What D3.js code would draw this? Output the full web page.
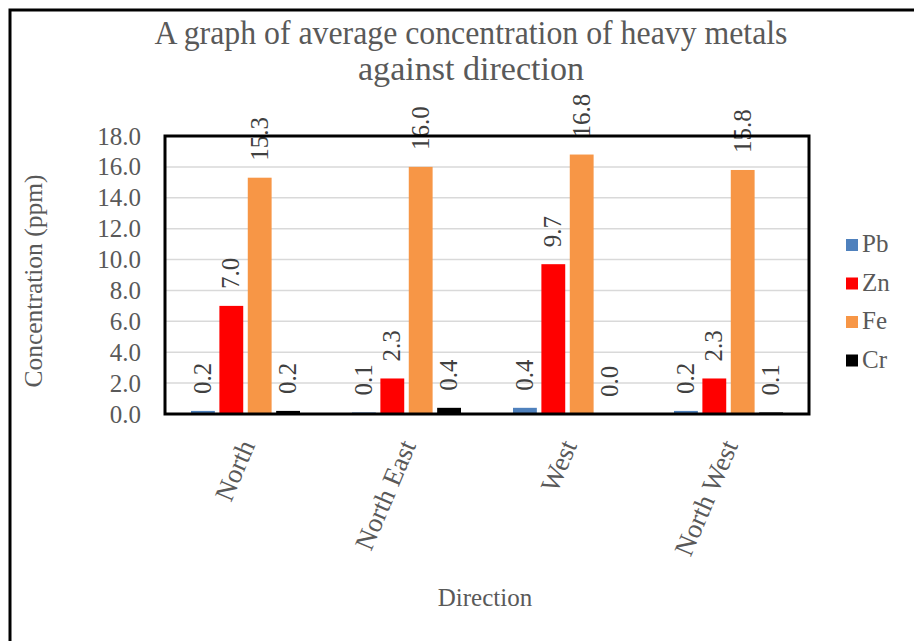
<!DOCTYPE html>
<html>
<head>
<meta charset="utf-8">
<script src="https://cdn.jsdelivr.net/npm/d3@7"></script>
<style>
  html, body { margin: 0; padding: 0; background: #fff; }
  svg { display: block; }
  text { font-family: "Liberation Serif", "Times New Roman", serif; fill: #595959; }
</style>
</head>
<body>
<svg id="chart" width="914" height="641"></svg>
<script>
// Average concentration (ppm) of heavy metals by sampling direction
const directions = ["North", "North East", "West", "North West"];
const metals = ["Pb", "Zn", "Fe", "Cr"];
const pbValues = [0.2, 0.1, 0.4, 0.2];
const znValues = [7.0, 2.3, 9.7, 2.3];
const feValues = [15.3, 16.0, 16.8, 15.8];
const crValues = [0.2, 0.4, 0.0, 0.1];
const yTicks = [0, 2, 4, 6, 8, 10, 12, 14, 16, 18];
const metalColors = ["#4f81bd", "#ff0000", "#f79646", "#000000"];

const serif = '"Liberation Serif", "Times New Roman", serif';
const seriesValues = [pbValues, znValues, feValues, crValues];
const rows = directions.map((d, i) => ({
  direction: d,
  values: metals.map((m, j) => ({ metal: m, value: seriesValues[j][i] }))
}));

const svg = d3.select("#chart");
const plot = { left: 165, right: 809, top: 136, bottom: 414 };

// Outer frame (top and left edges visible)
svg.append("path")
  .attr("d", "M10,641 L10,10 L914,10")
  .attr("fill", "none").attr("stroke", "#000").attr("stroke-width", 3);

const x0 = d3.scaleBand().domain(directions).range([plot.left, plot.right]).paddingInner(0.323).paddingOuter(0.1615);
const x1 = d3.scaleBand().domain(metals).range([0, x0.bandwidth()]).paddingInner(0.16);
const y = d3.scaleLinear().domain([0, 18]).range([plot.bottom, plot.top]);
const color = d3.scaleOrdinal().domain(metals).range(metalColors);

// Horizontal gridlines
svg.append("g")
  .selectAll("line").data(yTicks.filter(t => t > 0 && t < 18)).join("line")
  .attr("x1", plot.left).attr("x2", plot.right)
  .attr("y1", d => y(d)).attr("y2", d => y(d))
  .attr("stroke", "#d9d9d9").attr("stroke-width", 1.5);

// Y axis tick labels
const yAxis = d3.axisLeft(y).tickValues(yTicks).tickFormat(d3.format(".1f")).tickSize(0).tickPadding(24);
const gy = svg.append("g").attr("transform", `translate(${plot.left},0)`).call(yAxis);
gy.select(".domain").remove();
gy.selectAll("text")
  .style("fill", "#595959")
  .style("font-family", serif)
  .style("font-size", "25px");

// Bars
const groups = svg.append("g").selectAll("g").data(rows).join("g")
  .attr("transform", d => `translate(${x0(d.direction)},0)`);

groups.selectAll("rect").data(d => d.values).join("rect")
  .attr("x", d => x1(d.metal))
  .attr("width", x1.bandwidth())
  .attr("y", d => y(d.value))
  .attr("height", d => y(0) - y(d.value))
  .attr("fill", d => color(d.metal));

// Value labels, rotated, above each bar
groups.selectAll("text.val").data(d => d.values).join("text")
  .attr("class", "val")
  .attr("transform", d => `translate(${x1(d.metal) + x1.bandwidth() / 2 + 8},${y(d.value) - 17}) rotate(-90)`)
  .attr("text-anchor", "start")
  .style("font-family", serif)
  .style("font-size", "25px")
  .style("fill", "#404040")
  .text(d => d.value.toFixed(1));

// Plot border
svg.append("rect")
  .attr("x", plot.left).attr("y", plot.top)
  .attr("width", plot.right - plot.left).attr("height", plot.bottom - plot.top)
  .attr("fill", "none").attr("stroke", "#000").attr("stroke-width", 3);

// Category labels, slanted
const xAxis = d3.axisBottom(x0).tickSize(0).tickPadding(0);
const gx = svg.append("g").attr("transform", `translate(0,${plot.bottom})`).call(xAxis);
gx.select(".domain").remove();
gx.selectAll("text")
  .style("fill", "#595959")
  .style("font-family", serif)
  .style("font-size", "27px")
  .attr("text-anchor", "end")
  .attr("dy", 0)
  .attr("y", 0)
  .attr("transform", "translate(10,31) rotate(-67)");

// Title
const title = svg.append("text").attr("text-anchor", "middle")
  .style("font-family", serif).style("font-size", "33px");
title.append("tspan").attr("x", 471).attr("y", 44)
  .attr("textLength", 633).attr("lengthAdjust", "spacingAndGlyphs")
  .text("A graph of average concentration of heavy metals");
title.append("tspan").attr("x", 471).attr("y", 80)
  .attr("textLength", 226).attr("lengthAdjust", "spacingAndGlyphs")
  .text("against direction");

// Axis titles
svg.append("text")
  .attr("transform", "translate(42,281) rotate(-90)")
  .attr("text-anchor", "middle")
  .style("font-family", serif)
  .style("font-size", "26px")
  .attr("textLength", 213).attr("lengthAdjust", "spacingAndGlyphs")
  .text("Concentration (ppm)");

svg.append("text")
  .attr("x", 485).attr("y", 606)
  .attr("text-anchor", "middle")
  .style("font-family", serif)
  .style("font-size", "25px")
  .text("Direction");

// Legend
const legend = svg.append("g").selectAll("g").data(metals).join("g")
  .attr("transform", (d, i) => `translate(846,${239 + i * 38.5})`);
legend.append("rect").attr("width", 12).attr("height", 12).attr("fill", d => color(d));
legend.append("text").attr("x", 16).attr("y", 13)
  .style("font-family", serif).style("font-size", "25px").text(d => d);
</script>
</body>
</html>
